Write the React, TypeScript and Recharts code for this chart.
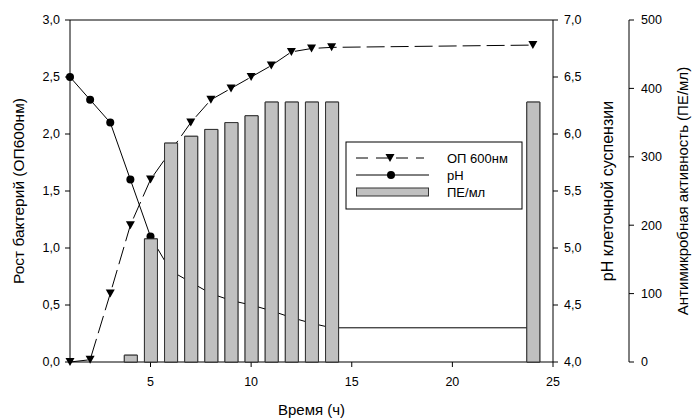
import { Bar, ComposedChart, Customized, Line, ReferenceLine, XAxis, YAxis } from "recharts";

const hours = [1, 2, 3, 4, 5, 6, 7, 8, 9, 10, 11, 12, 13, 14, 24];
const odValues = [0.0, 0.02, 0.6, 1.2, 1.6, 1.85, 2.1, 2.3, 2.4, 2.5, 2.6, 2.72, 2.75, 2.76, 2.78];
const phValues = [6.5, 6.3, 6.1, 5.6, 5.1, 4.8, 4.7, 4.6, 4.54, 4.5, 4.45, 4.39, 4.34, 4.3, 4.3];
const peValues = [null, null, null, 10, 180, 320, 330, 340, 350, 360, 380, 380, 380, 380, 380];

const xTicks = [5, 10, 15, 20, 25];
const odTicks = [0, 0.5, 1, 1.5, 2, 2.5, 3];
const phTicks = [4, 4.5, 5, 5.5, 6, 6.5, 7];
const peTicks = [0, 100, 200, 300, 400, 500];

const legendItems = ["ОП 600нм", "pH", "ПЕ/мл"];

const data = hours.map((h, i) => ({
  hour: h,
  od: odValues[i],
  ph: phValues[i],
  pe: peValues[i]
}));

const FONT = "'Liberation Sans', Arial, sans-serif";
const GREY = "#c0c0c0";
const W = 692;
const H = 419;
const MARGIN = { top: 20, right: 13, bottom: 0, left: 0 };
const tickStyle = { fill: "#000", fontSize: 12.5, fontFamily: FONT };

const comma = (v: number) => v.toFixed(1).replace(".", ",");

function Triangle(props: any) {
  const { cx, cy } = props;
  if (cx == null || cy == null) return null;
  return <path d={`M${cx - 4.5},${cy - 4} L${cx + 4.5},${cy - 4} L${cx},${cy + 4} Z`} fill="#000" />;
}

function Dot(props: any) {
  const { cx, cy } = props;
  if (cx == null || cy == null) return null;
  return <circle cx={cx} cy={cy} r={4} fill="#000" />;
}

function LegendBox() {
  const rows = [158, 175, 192];
  return (
    <g fontFamily={FONT} fontSize={13}>
      <rect x={346} y={142} width={176} height={67} fill="#fff" stroke="#000" strokeWidth={1} />
      <line x1={356} x2={424} y1={rows[0]} y2={rows[0]} stroke="#000" strokeDasharray="12 8" />
      <Triangle cx={390} cy={rows[0]} />
      <line x1={356} x2={429} y1={rows[1]} y2={rows[1]} stroke="#000" />
      <Dot cx={391} cy={rows[1]} />
      <rect x={356.5} y={rows[2] - 4} width={72} height={8} fill={GREY} stroke="#333" />
      {legendItems.map((t, i) => (
        <text key={t} x={447} y={rows[i]} dy="0.35em" fill="#000">
          {t}
        </text>
      ))}
    </g>
  );
}

// same axis layout in both layers; the top layer hides its axes
function axes(visible: boolean) {
  const common = visible
    ? { stroke: "#000", tickSize: 5, tick: tickStyle }
    : { axisLine: false, tickLine: false, tick: false };
  return [
    <XAxis
      key="x"
      dataKey="hour"
      type="number"
      domain={[1, 25]}
      ticks={xTicks}
      tickMargin={10}
      height={57}
      {...common}
      label={visible ? { value: "Время (ч)", position: "insideBottom", offset: 4, fill: "#000", fontSize: 15, fontFamily: FONT } : undefined}
    />,
    <YAxis
      key="od"
      yAxisId="od"
      orientation="left"
      domain={[0, 3]}
      ticks={odTicks}
      width={70}
      tickMargin={5}
      tickFormatter={comma}
      {...common}
      label={visible ? { value: "Рост бактерий (ОП600нм)", angle: -90, position: "center", dx: -17, fill: "#000", fontSize: 15.5, fontFamily: FONT } : undefined}
    />,
    <YAxis
      key="p2"
      yAxisId="p2"
      orientation="right"
      domain={[0, 500]}
      ticks={peTicks}
      width={50}
      tickMargin={7}
      {...common}
      label={visible ? { value: "Антимикробная активность (ПЕ/мл)", angle: -90, position: "center", dx: 29, fill: "#000", fontSize: 15, fontFamily: FONT } : undefined}
    />,
    <YAxis
      key="p1"
      yAxisId="p1"
      orientation="right"
      domain={[4, 7]}
      ticks={phTicks}
      width={76}
      tickMargin={6}
      tickFormatter={comma}
      {...common}
      label={visible ? { value: "pH клеточной суспензии", angle: -90, position: "center", dx: 16.5, fill: "#000", fontSize: 16, fontFamily: FONT } : undefined}
    />
  ];
}

export default function App() {
  return (
    <div style={{ position: "absolute", left: 0, top: 0, width: W, height: H, background: "#fff" }}>
      <div style={{ position: "absolute", left: 0, top: 0 }}>
        <ComposedChart width={W} height={H} data={data} margin={MARGIN} style={{ fontFamily: FONT }}>
          {axes(true)}
          <ReferenceLine yAxisId="od" y={3} stroke="#000" />
          <Bar
            yAxisId="p2"
            dataKey="pe"
            barSize={13}
            fill={GREY}
            stroke="#333"
            strokeWidth={1}
            isAnimationActive={false}
          />
          <Line
            yAxisId="p1"
            dataKey="ph"
            type="linear"
            stroke="#000"
            strokeWidth={1}
            dot={<Dot />}
            activeDot={false}
            isAnimationActive={false}
          />
          <Line
            yAxisId="od"
            dataKey="od"
            type="linear"
            stroke="#000"
            strokeWidth={1}
            strokeDasharray="18 6"
            dot={<Triangle />}
            activeDot={false}
            isAnimationActive={false}
          />
        </ComposedChart>
      </div>
      {/* bars again on a transparent layer so they cover the lines, as in the original */}
      <div style={{ position: "absolute", left: 0, top: 0 }}>
        <ComposedChart width={W} height={H} data={data} margin={MARGIN} style={{ fontFamily: FONT }}>
          {axes(false)}
          <Bar
            yAxisId="p2"
            dataKey="pe"
            barSize={13}
            fill={GREY}
            stroke="#333"
            strokeWidth={1}
            isAnimationActive={false}
          />
          <Customized component={LegendBox} />
        </ComposedChart>
      </div>
    </div>
  );
}
